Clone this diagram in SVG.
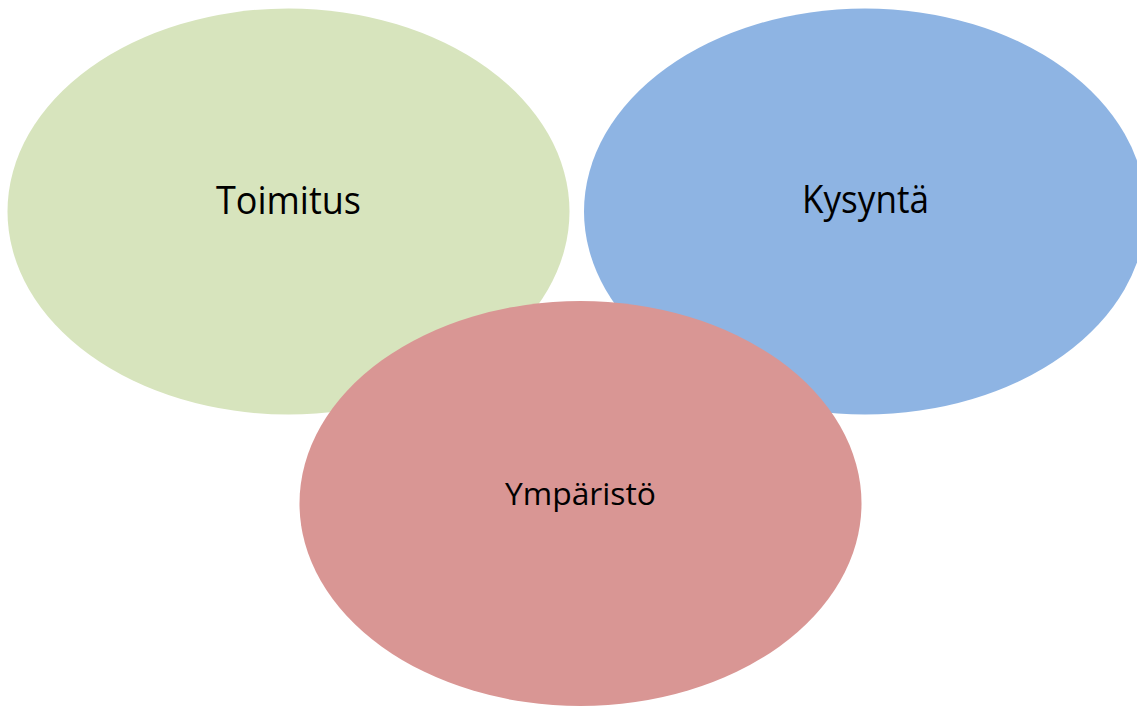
<svg xmlns="http://www.w3.org/2000/svg" width="1137" height="706" viewBox="0 0 1137 706">
<style>
.lbl{font-family:"Open Sans","Liberation Sans",sans-serif;fill:#000;text-anchor:middle}
.big{font-size:38px}
.small{font-size:31px}
</style>
<rect width="1137" height="706" fill="#fff"/>
<g id="toimitus">
<ellipse cx="288.5" cy="211.5" rx="281" ry="203" fill="#D7E4BD"/>
<text class="lbl big" x="288.5" y="214" textLength="145" lengthAdjust="spacingAndGlyphs">Toimitus</text>
</g>
<g id="kysynta">
<ellipse cx="865" cy="211.5" rx="281" ry="203" fill="#8EB4E3"/>
<text class="lbl big" x="865.5" y="213" textLength="127" lengthAdjust="spacingAndGlyphs">Kysyntä</text>
</g>
<g id="ymparisto">
<ellipse cx="580.5" cy="503.5" rx="281" ry="202.5" fill="#D99694"/>
<text class="lbl small" x="580.5" y="505" textLength="151" lengthAdjust="spacingAndGlyphs">Ympäristö</text>
</g>
<g id="connectors"></g>
</svg>
